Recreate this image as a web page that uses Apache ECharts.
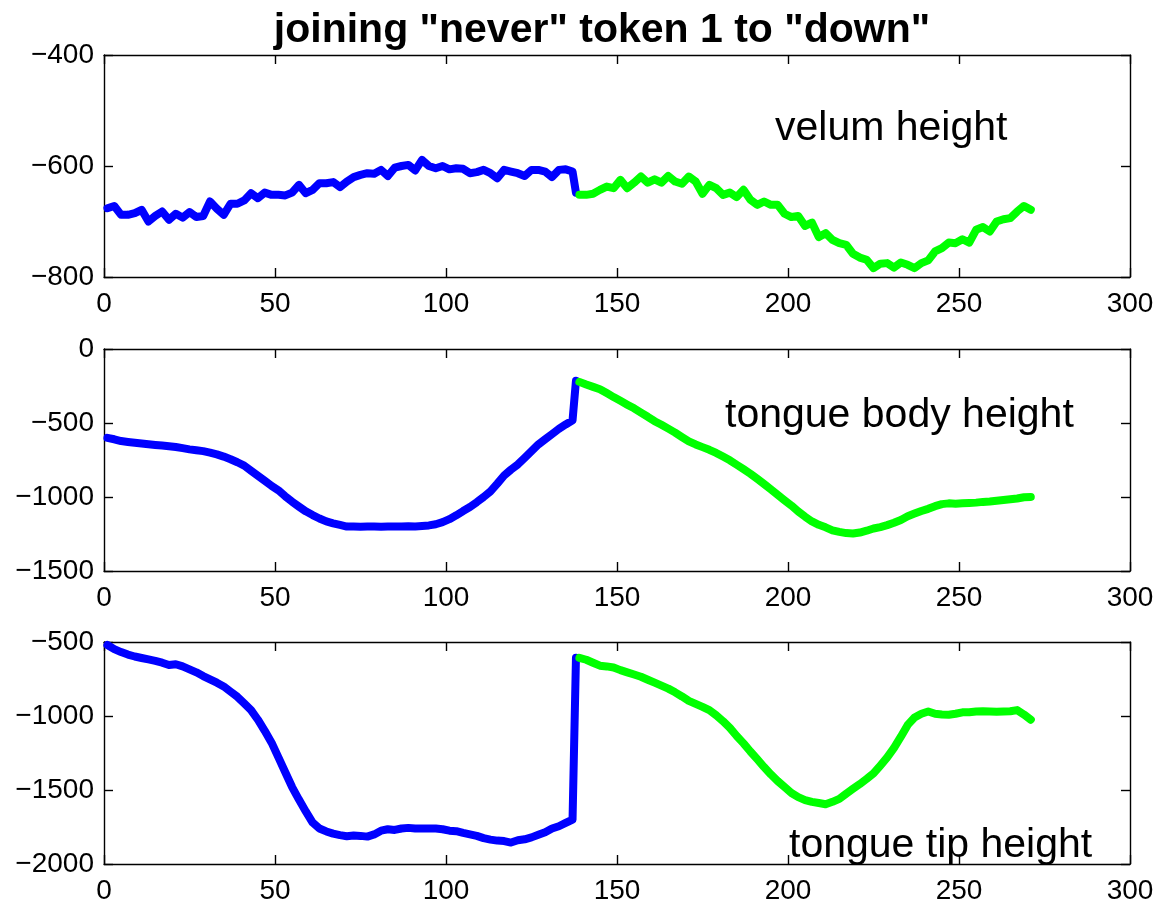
<!DOCTYPE html>
<html>
<head>
<meta charset="utf-8">
<title>joining "never" token 1 to "down"</title>
<script src="https://cdn.jsdelivr.net/npm/echarts@6/dist/echarts.min.js"></script>
<style>
  html, body { margin: 0; padding: 0; background: #ffffff; }
  #chart { width: 1160px; height: 906px; }
</style>
</head>
<body>
<div id="chart"></div>
<script>
// Frame indices: "never" token 1 ends at frame 138, "down" runs from 139 on.
const neverFrames = [1,3,5,7,9,11,13,15,17,19,21,23,25,27,29,31,33,35,37,39,41,43,45,47,49,51,53,55,57,59,61,63,65,67,69,71,73,75,77,79,81,83,85,87,89,91,93,95,97,99,101,103,105,107,109,111,113,115,117,119,121,123,125,127,129,131,133,135,137,138];
const downFrames = [139,141,143,145,147,149,151,153,155,157,159,161,163,165,167,169,171,173,175,177,179,181,183,185,187,189,191,193,195,197,199,201,203,205,207,209,211,213,215,217,219,221,223,225,227,229,231,233,235,237,239,241,243,245,247,249,251,253,255,257,259,261,263,265,267,269,271];

// velum height
const velumNever = [-676,-672,-688,-688,-685,-679,-700,-690,-682,-697,-686,-693,-683,-692,-690,-664,-677,-688,-668,-668,-662,-649,-658,-648,-652,-652,-653,-648,-634,-649,-643,-631,-631,-629,-638,-628,-620,-616,-613,-614,-607,-618,-603,-600,-598,-608,-589,-600,-604,-600,-606,-604,-605,-613,-611,-607,-613,-622,-607,-610,-613,-618,-607,-607,-610,-620,-607,-606,-610,-648];
const velumDown = [-652,-652,-650,-643,-637,-640,-625,-640,-630,-619,-630,-624,-630,-618,-628,-632,-619,-628,-650,-634,-640,-652,-648,-656,-643,-661,-670,-664,-670,-670,-686,-692,-690,-708,-702,-728,-721,-733,-739,-742,-758,-765,-769,-784,-776,-775,-783,-774,-778,-784,-775,-770,-754,-748,-738,-739,-732,-738,-715,-710,-718,-700,-696,-694,-682,-672,-679];

// tongue body height
const bodyNever = [-600,-610,-622,-628,-633,-638,-643,-648,-652,-657,-662,-670,-678,-684,-690,-700,-712,-727,-745,-765,-788,-822,-856,-890,-925,-955,-995,-1032,-1065,-1097,-1122,-1145,-1165,-1178,-1189,-1200,-1200,-1201,-1200,-1200,-1201,-1200,-1199,-1200,-1198,-1199,-1196,-1192,-1184,-1170,-1150,-1124,-1095,-1068,-1035,-1000,-962,-910,-855,-815,-780,-735,-690,-645,-610,-575,-540,-510,-482,-215];
const bodyDown = [-222,-240,-256,-272,-298,-325,-350,-376,-401,-430,-458,-488,-512,-538,-565,-595,-624,-645,-663,-681,-702,-727,-752,-782,-812,-843,-877,-912,-948,-985,-1022,-1058,-1098,-1133,-1165,-1188,-1205,-1225,-1236,-1244,-1247,-1240,-1228,-1213,-1203,-1190,-1174,-1155,-1130,-1112,-1095,-1080,-1062,-1048,-1043,-1045,-1042,-1040,-1038,-1033,-1030,-1025,-1020,-1015,-1010,-1002,-1000];

// tongue tip height
const tipNever = [-520,-548,-568,-585,-598,-608,-618,-628,-640,-656,-650,-665,-685,-705,-730,-752,-775,-800,-835,-870,-915,-960,-1025,-1100,-1180,-1280,-1380,-1480,-1565,-1645,-1720,-1760,-1780,-1795,-1805,-1812,-1808,-1810,-1815,-1800,-1775,-1765,-1770,-1760,-1756,-1760,-1760,-1760,-1760,-1765,-1775,-1778,-1790,-1800,-1810,-1825,-1835,-1842,-1845,-1855,-1840,-1833,-1820,-1802,-1785,-1760,-1745,-1722,-1700,-607];
const tipDown = [-607,-620,-640,-660,-665,-672,-690,-705,-720,-735,-755,-775,-795,-815,-840,-868,-898,-918,-938,-960,-995,-1035,-1080,-1135,-1185,-1240,-1292,-1345,-1395,-1440,-1480,-1520,-1548,-1568,-1580,-1588,-1596,-1580,-1560,-1525,-1492,-1460,-1425,-1388,-1335,-1280,-1215,-1140,-1060,-1010,-985,-970,-985,-990,-992,-985,-975,-975,-970,-968,-970,-972,-970,-968,-960,-990,-1025];

// axis ranges and tick steps
const xRange = { min: 0, max: 300, step: 50 };
const yRanges = [
  { min: -800, max: -400, step: 200 },
  { min: -1500, max: 0, step: 500 },
  { min: -2000, max: -500, step: 500 }
];

const chartTitle = 'joining "never" token 1 to "down"';
const panelLabels = ['velum height', 'tongue body height', 'tongue tip height'];
const panels = [
  [velumNever, velumDown],
  [bodyNever, bodyDown],
  [tipNever, tipDown]
];

const FONT = "'Liberation Sans', Arial, Helvetica, sans-serif";
const gridTops = [55, 349, 642];
const gridLeft = 104, gridWidth = 1026, gridHeight = 222;
const minus = v => String(v).replace('-', '\u2212');

const grids = [], xAxes = [], yAxes = [], series = [];
gridTops.forEach((top, i) => {
  grids.push({ left: gridLeft, top: top, width: gridWidth, height: gridHeight,
               outerBoundsMode: 'none', containLabel: false });
  const axisLine = { show: true, onZero: false, lineStyle: { color: '#000', width: 1.4 } };
  const tick = { show: true, inside: true, length: 9, lineStyle: { color: '#000', width: 1.4 } };
  const label = { color: '#000', fontSize: 28, fontFamily: FONT };
  // bottom x axis carries the labels, top x axis closes the box
  xAxes.push({ type: 'value', gridIndex: i, position: 'bottom',
    min: xRange.min, max: xRange.max, interval: xRange.step,
    axisLine: axisLine, axisTick: tick, splitLine: { show: false },
    axisLabel: Object.assign({ margin: 13, showMinLabel: true, showMaxLabel: true }, label) });
  xAxes.push({ type: 'value', gridIndex: i, position: 'top',
    min: xRange.min, max: xRange.max, interval: xRange.step,
    axisLine: axisLine, axisTick: tick, splitLine: { show: false }, axisLabel: { show: false } });
  const yr = yRanges[i];
  yAxes.push({ type: 'value', gridIndex: i, position: 'left',
    min: yr.min, max: yr.max, interval: yr.step,
    axisLine: axisLine, axisTick: tick, splitLine: { show: false },
    axisLabel: Object.assign({ margin: 10, formatter: minus, showMinLabel: true, showMaxLabel: true }, label) });
  yAxes.push({ type: 'value', gridIndex: i, position: 'right',
    min: yr.min, max: yr.max, interval: yr.step,
    axisLine: axisLine, axisTick: tick, splitLine: { show: false }, axisLabel: { show: false } });

  const [neverVals, downVals] = panels[i];
  const mk = (frames, vals, color) => ({
    type: 'line', xAxisIndex: 2 * i, yAxisIndex: 2 * i,
    data: frames.map((f, k) => [f, vals[k]]),
    showSymbol: false, symbol: 'none', smooth: false, clip: false,
    lineStyle: { color: color, width: 8, cap: 'round', join: 'round' },
    emphasis: { disabled: true }, silent: true
  });
  series.push(mk(neverFrames, neverVals, '#0000ff'));
  series.push(mk(downFrames, downVals, '#00ff00'));
});

// in-plot annotations, placed where the panel text sits
const textPos = [
  { x: 775, y: 129 },
  { x: 725, y: 416 },
  { x: 789, y: 846 }
];

const chart = echarts.init(document.getElementById('chart'), null, { renderer: 'canvas' });
chart.setOption({
  backgroundColor: '#ffffff',
  animation: false,
  grid: grids,
  xAxis: xAxes,
  yAxis: yAxes,
  series: series,
  graphic: [
    { type: 'text', x: 602, y: 31, silent: true,
      style: { text: chartTitle, fill: '#000', font: 'bold 41px ' + FONT,
               align: 'center', verticalAlign: 'middle' } }
  ].concat(panelLabels.map((t, i) => ({
    type: 'text', x: textPos[i].x, y: textPos[i].y, silent: true,
    style: { text: t, fill: '#000', font: '41px ' + FONT, align: 'left', verticalAlign: 'middle' }
  })))
});
</script>
</body>
</html>
